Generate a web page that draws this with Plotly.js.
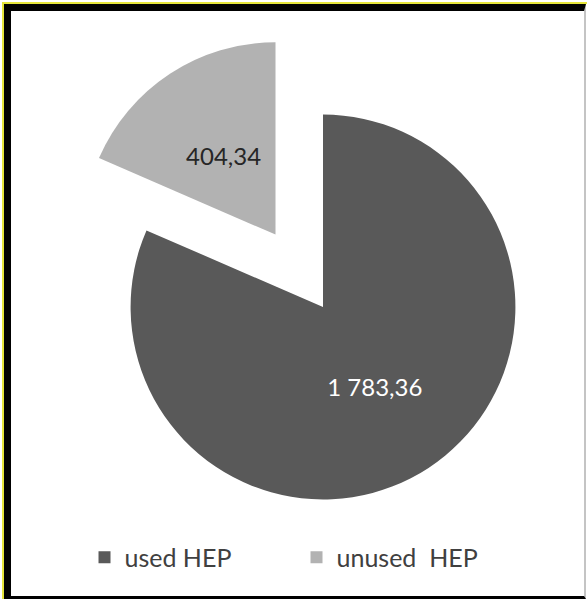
<!DOCTYPE html>
<html>
<head>
<meta charset="utf-8">
<script src="https://cdn.plot.ly/plotly-3.0.1.min.js"></script>
<style>
  html, body { margin: 0; padding: 0; background: #fff; overflow: hidden; }
  #wrap { position: relative; width: 587px; height: 599px; overflow: hidden; }
  #chart { position: absolute; left: 0; top: 0; width: 620px; height: 599px; }
  .frameY { position: absolute; left: 2px; top: 2px; width: 585px; height: 597px;
            box-sizing: border-box; border-left: 2px solid #e4e43a; border-top: 2px solid #e4e43a;
            pointer-events: none; }
  .frameB { position: absolute; left: 4px; top: 4px; width: 582px; height: 595px;
            box-sizing: border-box; border-left: 7px solid #000; border-top: 7px solid #000;
            border-bottom: 3px solid #000; border-right: 2px solid #c4c4c4; pointer-events: none; }
</style>
</head>
<body>
<div id="wrap">
  <div id="chart"></div>
  <div class="frameY"></div>
  <div class="frameB"></div>
</div>
<script>
// ---- data ----
const categories = ['used HEP', 'unused\u00a0 HEP'];
const values = [1783.36, 404.34];
const sliceColors = ['#595959', '#b2b2b2'];
const labelColors = ['#ffffff', '#262626'];
const pulls = [0, 0.45];
const labelPulls = [0, 0.312];

const FONT = 'Lato, "Open Sans", "DejaVu Sans", sans-serif';

const pieTrace = {
  type: 'pie',
  labels: categories,
  values: values,
  sort: false,
  direction: 'clockwise',
  rotation: 0,
  pull: pulls,
  marker: { colors: sliceColors, line: { width: 0 } },
  textinfo: 'none',
  hoverinfo: 'label+value',
  domain: { x: [0, 1], y: [0, 1] },
  showlegend: true
};

// transparent companion pie used only to place the value labels
const labelTrace = {
  type: 'pie',
  labels: categories,
  values: values,
  sort: false,
  direction: 'clockwise',
  rotation: 0,
  pull: labelPulls,
  marker: { colors: ['rgba(0,0,0,0)', 'rgba(0,0,0,0)'], line: { width: 0 } },
  textposition: 'inside',
  texttemplate: '%{value:,.2f}',
  insidetextfont: { family: FONT, size: 24, color: labelColors },
  hoverinfo: 'skip',
  domain: { x: [0.0555, 0.9445], y: [0.0555, 0.9445] },
  showlegend: false
};

const layout = {
  width: 620,
  height: 599,
  margin: { l: 44, r: 18, t: 28, b: 13 },
  paper_bgcolor: '#ffffff',
  plot_bgcolor: '#ffffff',
  separators: ', ',
  font: { family: FONT, size: 24, color: '#404040' },
  showlegend: true,
  legend: {
    orientation: 'h',
    x: 0.0726, xanchor: 'left',
    y: 0.051, yanchor: 'middle',
    font: { family: FONT, size: 25, color: '#404040' },
    entrywidth: 167,
    entrywidthmode: 'pixels',
    bgcolor: 'rgba(0,0,0,0)',
    traceorder: 'normal'
  }
};

Plotly.newPlot('chart', [pieTrace, labelTrace], layout, { displayModeBar: false, staticPlot: true });
</script>
</body>
</html>
